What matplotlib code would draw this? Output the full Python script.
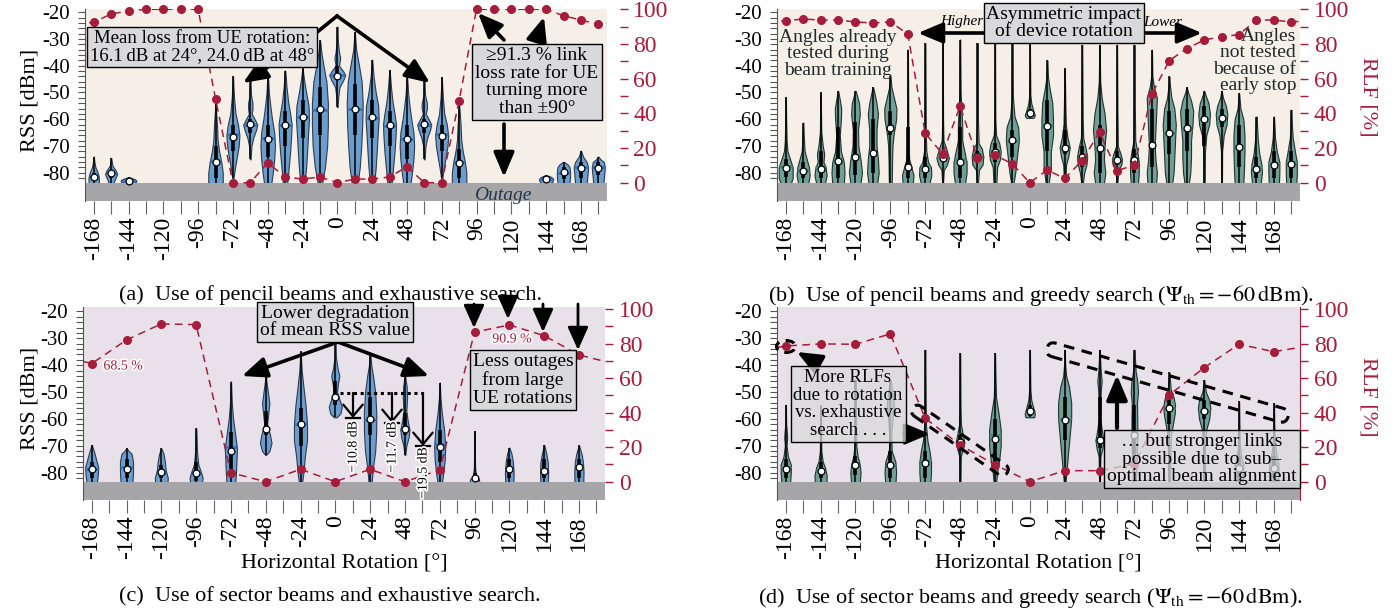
import numpy as np
import matplotlib
matplotlib.use("Agg")
import matplotlib.pyplot as plt
from matplotlib.patches import FancyBboxPatch, Ellipse, FancyArrowPatch
from matplotlib.transforms import Affine2D
from matplotlib.lines import Line2D
import matplotlib.patheffects as pe

plt.rcParams['font.family'] = ['Liberation Serif', 'DejaVu Serif']
plt.rcParams['mathtext.fontset'] = 'stix'

# ---------------- data ----------------
angles_fine = list(range(-168, 181, 12))      # pencil beams
angles_coarse = list(range(-168, 169, 24))    # sector beams
tick_angles = list(range(-168, 181, 12))
label_angles = list(range(-168, 169, 24))
rss_ticks = [-80, -70, -60, -50, -40, -30, -20]
rlf_ticks = [0, 20, 40, 60, 80, 100]

rlf_a = [92.5, 97.3, 99.0, 100, 100, 100, 100, 48.5, 0, 0, 11.5, 3.3, 2.1, 3.3, 0,
         2.1, 2.1, 3.3, 9.2, 0, 0, 47.3, 100, 100, 100, 100, 100, 96.3, 93.8, 91.3]
rlf_b = [93.4, 94.4, 93.8, 93.8, 92.7, 92.1, 92.7, 85.8, 28.5, 16.6, 44.2, 14.1, 16.0, 10.8, 0,
         7.3, 2.5, 12.7, 29.2, 6.9, 10.2, 51.0, 70.4, 77.3, 82.3, 84.2, 85.4, 93.8, 93.8, 92.7]
rlf_c = [68.5, 82.2, 91.5, 91.1, 5.2, 0, 7.2, 0, 7.2, 0, 6.8, 86.7, 90.9, 84.7, 73.5]
rlf_d = [78.7, 79.9, 79.7, 85.7, 36.8, 21.3, 9.9, 0, 6.4, 6.4, 10.3, 50.3, 66.1, 79.7, 75.4]

# violins: angle -> (mean, median, q1, q3, [(rss, half-width deg), ...])
viol_a = {
    -168: (-81.5, -81.5, -83, -80, [(-84, 3.5), (-82, 3.6), (-80, 2.8), (-78, 1.2), (-76, 0.5), (-74, 0.1)]),
    -156: (-80.2, -80, -82, -79, [(-84, 1.5), (-82, 3), (-80.5, 4.2), (-79, 3), (-77.5, 1), (-76, 0.5), (-74.5, 0.1)]),
    -144: (-83.1, -83, -83.5, -82.6, [(-84, 3.5), (-83.5, 5), (-83, 5.5), (-82.5, 4.5), (-82, 2), (-81.7, 0.3)]),
    -84: (-76.1, -75.5, -82, -70, [(-84, 5), (-80, 5), (-76, 4), (-72, 2.5), (-68, 1.5), (-62, 1), (-58, 0.5), (-54.3, 0.1)]),
    -72: (-66.5, -65.5, -72, -62, [(-82, 0.4), (-78, 1.5), (-74, 2.8), (-70, 4), (-66, 4.5), (-62, 3.5), (-58, 1.8), (-52, 0.8), (-48, 0.4), (-44, 0.1)]),
    -60: (-61.8, -62, -65, -60, [(-75, 0.2), (-70, 0.8), (-67, 2), (-64, 4), (-62, 4.8), (-60, 3), (-58, 1), (-56, 1.5), (-54, 1.5), (-51, 0.5), (-45.3, 0.1)]),
    -48: (-67.5, -67, -74, -62, [(-84, 2.5), (-80, 3.5), (-75, 4.5), (-70, 5), (-65, 4.5), (-60, 3), (-55, 1.8), (-50, 0.8), (-43, 0.1)]),
    -36: (-62.2, -62, -70, -57, [(-84, 1.5), (-78, 2.5), (-72, 3.5), (-66, 4.2), (-62, 4.5), (-58, 3.5), (-53, 2), (-48, 1), (-41.8, 0.1)]),
    -24: (-59.3, -59, -67, -53, [(-84, 1.5), (-78, 2.5), (-72, 3.2), (-66, 3.8), (-60, 4.5), (-55, 4.2), (-50, 2.5), (-45, 1), (-41, 0.1)]),
    -12: (-56.3, -56.5, -66, -48, [(-84, 1.5), (-78, 3.5), (-70, 5), (-62, 5.5), (-54, 5.5), (-46, 4.5), (-40, 2.5), (-35, 1), (-30.5, 0.1)]),
    0: (-43.8, -43.5, -45.5, -40, [(-55.5, 0.2), (-52, 0.6), (-48, 1.5), (-45.5, 4), (-43.5, 5.5), (-42, 4), (-40, 1.2), (-37, 2), (-35, 1.2), (-31, 0.4), (-25.4, 0.1)]),
    12: (-56.1, -56, -66, -47, [(-84, 2), (-78, 3.5), (-70, 4.5), (-62, 5.2), (-54, 5.5), (-46, 4.8), (-40, 3), (-34, 1), (-27.3, 0.1)]),
    24: (-59.3, -59.5, -67, -53, [(-84, 1.5), (-78, 2.5), (-72, 3.2), (-66, 3.8), (-60, 4.5), (-55, 4.2), (-50, 2.5), (-44, 1), (-37.8, 0.1)]),
    36: (-62.2, -62.5, -70, -57, [(-84, 1.5), (-78, 2.5), (-72, 3.5), (-66, 4.2), (-62, 4.5), (-58, 3.5), (-53, 2), (-48, 1), (-41.6, 0.1)]),
    48: (-67.5, -67.5, -75, -62, [(-84, 2.5), (-80, 3.5), (-75, 4.5), (-70, 5), (-65, 4.5), (-60, 3), (-55, 1.8), (-50, 0.8), (-43.5, 0.1)]),
    60: (-61.8, -62, -65, -60, [(-75, 0.2), (-70, 0.8), (-67, 2), (-64, 4), (-62, 4.8), (-60, 3), (-58, 1), (-56, 1.8), (-54, 1.8), (-51, 0.5), (-45.3, 0.1)]),
    72: (-66.3, -65.5, -72, -62, [(-82, 0.4), (-78, 1.5), (-74, 2.8), (-70, 4), (-66, 4.5), (-62, 3.5), (-58, 1.8), (-52, 0.8), (-48, 0.4), (-44.3, 0.1)]),
    84: (-76.5, -76, -82, -71, [(-84, 5), (-80, 5), (-76, 4), (-72, 2.5), (-68, 1.5), (-62, 1), (-58, 0.5), (-55, 0.1)]),
    144: (-82.4, -82.4, -83.2, -81.8, [(-84, 3), (-83.2, 4.5), (-82.4, 5), (-81.8, 4), (-81.2, 2), (-81, 0.3)]),
    156: (-79.9, -80, -82.5, -78, [(-84, 4), (-82, 4.5), (-80, 4.6), (-78, 4.2), (-77, 3), (-76, 0.5)]),
    168: (-78.1, -78, -82, -76, [(-84, 4), (-81, 4.5), (-78, 5), (-76, 4), (-74, 1.5), (-71.8, 0.1)]),
    180: (-78.1, -78, -81, -76, [(-84, 3.5), (-81, 4), (-78, 4.5), (-76, 3.8), (-75, 1.5), (-74, 0.1)]),
}
viol_b = {
    -168: (-78.4, -77.5, -81.5, -75, [(-84, 3.5), (-82, 4.8), (-78, 4.8), (-75, 3), (-72, 1.2), (-68, 0.6), (-60, 0.3), (-51.8, 0.1)]),
    -156: (-79.3, -79, -82, -76, [(-84, 3.5), (-81, 4.5), (-78, 4), (-75, 2.5), (-72, 1), (-66, 0.4), (-61.3, 0.1)]),
    -144: (-78.5, -78, -82, -72, [(-84, 3), (-81, 4.2), (-78, 3.5), (-76, 2), (-73, 2.5), (-70, 1.5), (-65, 0.5), (-58, 0.3), (-50, 0.1)]),
    -132: (-75.5, -76, -82, -63, [(-84, 4), (-80, 4.5), (-76, 4), (-72, 2), (-66, 1.2), (-60, 2), (-56, 2.2), (-52, 1), (-49.4, 0.1)]),
    -120: (-74.0, -74, -81, -61, [(-84, 3.5), (-80, 4.5), (-75, 3.5), (-70, 2), (-64, 1.8), (-58, 3), (-54, 2.5), (-51, 1), (-49.4, 0.1)]),
    -108: (-72.8, -73, -80, -60, [(-84, 3), (-80, 4), (-75, 3.5), (-70, 2.5), (-64, 2.5), (-58, 3.5), (-54, 2.5), (-50, 1), (-48, 0.1)]),
    -96: (-63.4, -62, -66, -57, [(-84, 1), (-76, 1.2), (-70, 1.5), (-66, 2.2), (-60, 4), (-56, 4.2), (-52, 2.5), (-48, 0.8), (-44, 0.1)]),
    -84: (-77.8, -78, -82, -63, [(-84, 3.5), (-81, 4), (-78, 2.5), (-75, 1), (-70, 0.5), (-60, 0.4), (-50, 0.3), (-34, 0.1)]),
    -72: (-78.6, -77, -82, -74, [(-84, 3), (-81, 4.2), (-78, 4), (-76, 2), (-72, 0.8), (-65, 0.4), (-50, 0.3), (-31.5, 0.1)]),
    -60: (-74.5, -74, -76, -73, [(-84, 0.3), (-79, 0.8), (-77, 3), (-74.5, 4.3), (-71, 2.5), (-68, 0.6), (-60, 0.3), (-31.5, 0.1)]),
    -48: (-76.1, -75, -82, -63, [(-84, 3.5), (-80, 4.5), (-76, 4.5), (-72, 3), (-68, 1.5), (-62, 1.5), (-57, 1), (-50, 0.4), (-30.2, 0.1)]),
    -36: (-73.7, -74, -76, -72, [(-84, 0.3), (-79, 1), (-77, 3.5), (-74, 4), (-71, 3), (-69, 0.8), (-60, 0.3), (-31.5, 0.1)]),
    -24: (-72.2, -72, -76, -69, [(-84, 1), (-78, 1.5), (-75, 3.5), (-72, 4), (-69, 3), (-66, 0.8), (-60, 0.3), (-31.5, 0.1)]),
    -12: (-67.8, -68, -74, -64, [(-84, 0.8), (-80, 2), (-75, 3), (-68, 4.5), (-63, 4), (-59, 1.5), (-52, 0.4), (-31.5, 0.1)]),
    0: (-57.6, -57.5, -58.5, -56, [(-59.5, 2.5), (-58.5, 3.5), (-57, 2.5), (-54, 1), (-51, 0.4), (-31.5, 0.1)]),
    12: (-62.5, -62, -72, -53, [(-84, 1), (-78, 2.5), (-72, 2.5), (-66, 4), (-60, 4), (-54, 3.5), (-48, 1.5), (-44, 0.5), (-38, 0.1)]),
    24: (-70.6, -71, -73, -64, [(-84, 0.4), (-77, 1), (-74, 2.5), (-70.5, 3.5), (-67, 2), (-62, 0.8), (-55, 0.5), (-41, 0.1)]),
    36: (-74.2, -74, -78, -70, [(-84, 0.5), (-80, 1.5), (-77, 3), (-74, 3.5), (-71, 2.5), (-67, 0.8), (-60, 0.4), (-32.2, 0.1)]),
    48: (-70.9, -72, -80, -62, [(-84, 3), (-80, 4), (-75, 3), (-70, 3.5), (-64, 4.5), (-58, 3.5), (-52, 1.5), (-46, 0.5), (-32.2, 0.1)]),
    60: (-75.2, -75, -77, -72, [(-84, 0.3), (-79, 1), (-77, 3), (-75, 3.5), (-73, 2.5), (-70, 0.6), (-55, 0.3), (-32.2, 0.1)]),
    72: (-75.2, -75, -80, -71, [(-84, 2.5), (-80, 3), (-76, 3), (-72, 2), (-68, 0.6), (-55, 0.3), (-32.2, 0.1)]),
    84: (-69.6, -68, -78, -56, [(-84, 3), (-80, 3.5), (-75, 2.5), (-70, 2), (-64, 2.5), (-58, 3), (-52, 3.5), (-48, 1.5), (-44, 0.4), (-34, 0.1)]),
    96: (-65.3, -65, -73, -57, [(-84, 2), (-80, 3), (-74, 3.5), (-68, 4), (-62, 4.5), (-56, 3.5), (-52, 1.5), (-47, 0.4), (-44, 0.1)]),
    108: (-63.4, -64, -72, -56, [(-84, 1.5), (-80, 2.5), (-74, 3), (-68, 3), (-62, 4), (-57, 4.5), (-53, 3), (-50, 1), (-48, 0.1)]),
    120: (-59.9, -60, -70, -55, [(-84, 0.4), (-72, 0.6), (-66, 1.5), (-62, 3.5), (-58, 4), (-54, 3), (-51, 1), (-49.4, 0.1)]),
    132: (-59.6, -61, -63, -56, [(-84, 0.3), (-72, 0.4), (-66, 1.5), (-62, 3.5), (-58, 4), (-55, 3), (-52, 1), (-49.4, 0.1)]),
    144: (-70.4, -70, -78, -62, [(-84, 3), (-78, 3.5), (-72, 3.8), (-66, 3.8), (-60, 3), (-56, 1), (-50.3, 0.1)]),
    156: (-78.7, -78, -82, -74, [(-84, 3), (-80, 3.8), (-77, 3.5), (-73, 2), (-68, 1), (-62, 0.4), (-59, 0.1)]),
    168: (-77.3, -76.5, -82, -72, [(-84, 3.5), (-80, 3.8), (-76, 3.8), (-72, 2), (-67, 0.8), (-62, 0.4), (-59, 0.1)]),
    180: (-76.6, -76, -82, -72, [(-84, 3.5), (-80, 3.8), (-76, 3.8), (-72, 2.5), (-67, 1), (-62, 0.4), (-56.5, 0.1)]),
}
viol_c = {
    -168: (-78.5, -78.5, -82, -76, [(-84, 3.5), (-81, 4.2), (-78, 4.5), (-75, 3), (-72, 1.5), (-69.7, 0.1)]),
    -144: (-78.5, -78, -82, -75, [(-84, 4), (-80, 4.5), (-76, 4.5), (-73, 3.5), (-72, 1.5), (-70.9, 0.1)]),
    -120: (-79.6, -80, -82, -77, [(-84, 4.2), (-82, 4.5), (-79, 3), (-76, 2.5), (-73, 1.5), (-71, 0.1)]),
    -96: (-80.2, -80, -83, -76, [(-84, 4), (-82, 4.5), (-80, 3.5), (-77, 1.5), (-72, 0.6), (-66, 0.3), (-63.5, 0.1)]),
    -72: (-71.8, -70.5, -80, -65, [(-84, 3), (-80, 3.5), (-76, 3.8), (-71, 4.2), (-66, 3), (-60, 1.5), (-54, 0.6), (-46.1, 0.1)]),
    -48: (-63.8, -63, -66, -57, [(-73.4, 0.3), (-72, 2.5), (-69, 4), (-66, 3), (-62, 1), (-58, 1.8), (-54, 2.5), (-50, 1.5), (-46, 0.5), (-42.7, 0.1)]),
    -24: (-62.0, -62, -70, -56, [(-84, 1), (-80, 2), (-74, 3), (-68, 4.5), (-62, 4.5), (-55, 3.5), (-48, 2), (-42, 0.8), (-34.9, 0.1)]),
    0: (-51.9, -50.6, -55, -46, [(-59.4, 1), (-58, 3.5), (-55.5, 4.5), (-53, 3), (-50, 1.2), (-47, 1.8), (-44, 2.8), (-41, 1.5), (-37, 0.4), (-30.5, 0.1)]),
    24: (-60.1, -60.5, -66, -52, [(-84, 1), (-78, 2), (-72, 3.5), (-65, 4.2), (-58, 4.3), (-50, 3.5), (-44, 2), (-40, 0.8), (-35.3, 0.1)]),
    48: (-63.8, -63, -66, -58, [(-73.4, 0.3), (-70, 1), (-67, 2.5), (-64, 3.2), (-61, 2), (-57, 1), (-52, 1.5), (-48, 1.2), (-45, 0.4), (-42.7, 0.1)]),
    72: (-70.3, -69.5, -76, -64, [(-84, 1.5), (-80, 2.5), (-75, 3.5), (-70, 3.8), (-64, 3), (-58, 1.5), (-52, 0.5), (-46.5, 0.1)]),
    96: (-81.9, -82, -83, -80, [(-84, 3.5), (-82.5, 3), (-81, 1), (-78, 0.4), (-70, 0.2), (-64.5, 0.1)]),
    120: (-78.7, -78.5, -82, -75, [(-84, 2.8), (-80, 3), (-76, 2.5), (-73, 1.5), (-70.7, 0.1)]),
    144: (-79.4, -79, -82, -75, [(-84, 2.5), (-80, 2.8), (-76, 2.5), (-73, 1.5), (-69.7, 0.1)]),
    168: (-78.0, -78, -82, -75, [(-84, 3), (-80, 3.2), (-76, 2.8), (-73, 1.8), (-69.9, 0.1)]),
}
viol_d = {
    -168: (-78.7, -78, -82, -75, [(-84, 3), (-80, 3.5), (-77, 3.5), (-74, 1.5), (-70, 0.6), (-67, 1), (-65, 0.8), (-62, 0.3), (-54.8, 0.1)]),
    -144: (-79.5, -79, -82, -76, [(-84, 4), (-81, 4.2), (-78, 3), (-76, 1.5), (-72, 0.5), (-60, 0.3), (-55, 0.1)]),
    -120: (-77.1, -77, -81, -74, [(-84, 3), (-80, 3.5), (-77, 3), (-74, 1.5), (-70, 0.6), (-55, 0.3), (-45.5, 0.1)]),
    -96: (-77.0, -77, -82, -72, [(-84, 3.5), (-80, 4), (-76, 3.5), (-72, 1), (-66, 0.6), (-60, 1.5), (-55, 2.5), (-50, 1.5), (-45.5, 0.1)]),
    -72: (-76.3, -75.2, -82, -72, [(-84, 3.5), (-80, 4), (-76, 4), (-72, 3), (-68, 1.5), (-62, 0.5), (-50, 0.3), (-34.3, 0.1)]),
    -48: (-68.6, -69, -72, -66, [(-84, 0.3), (-74, 0.5), (-71, 2), (-69, 3), (-66, 2), (-62, 0.6), (-55, 0.3), (-35.5, 0.1)]),
    -24: (-67.6, -66, -76, -60, [(-84, 0.8), (-80, 1.5), (-75, 3), (-70, 4), (-64, 4), (-58, 2.5), (-52, 0.8), (-45, 0.4), (-35.5, 0.1)]),
    0: (-56.9, -57.5, -59, -55, [(-59.4, 3), (-58, 3.5), (-56, 2.5), (-53, 1), (-49, 0.4), (-34.3, 0.1)]),
    24: (-60.4, -60, -68, -52, [(-84, 0.5), (-78, 1.5), (-72, 2.5), (-66, 3.5), (-60, 4.5), (-54, 4.5), (-48, 3), (-44, 1), (-40, 0.4), (-34.3, 0.1)]),
    48: (-67.8, -68, -71, -52, [(-84, 0.3), (-74, 0.6), (-71, 2), (-68, 2.8), (-65, 1.8), (-60, 0.5), (-50, 0.8), (-46, 1.5), (-42, 0.8), (-34.3, 0.1)]),
    72: (-66.0, -66, -74, -55, [(-84, 1), (-76, 1.5), (-68, 2), (-60, 2), (-54, 1.8), (-50, 2.5), (-46, 2), (-42, 0.8), (-34.3, 0.1)]),
    96: (-56.0, -56, -62, -52, [(-84, 0.5), (-75, 0.8), (-66, 1.2), (-62, 2.5), (-58, 3.8), (-55, 4), (-52, 3), (-49, 1), (-45, 0.4), (-42.7, 0.1)]),
    120: (-57.0, -57, -60, -53, [(-84, 0.4), (-70, 0.6), (-64, 1.5), (-60, 3.5), (-56, 4.3), (-53, 3.5), (-50, 1.2), (-47, 0.4), (-45.5, 0.1)]),
    144: (-78.4, -78, -82, -74, [(-84, 2.5), (-80, 3), (-77, 3), (-74, 1.5), (-70, 0.6), (-62, 0.3), (-53.5, 0.1)]),
    168: (-78.4, -78, -82, -74, [(-84, 3), (-80, 3.2), (-77, 3.2), (-74, 2), (-70, 0.8), (-62, 0.3), (-54.2, 0.1)]),
}

# ---------------- style ----------------
W, H = 1396, 608
RED = '#a51d3b'
BG_TOP = '#f6efe7'
BG_BOT = '#e9e1e9'
BAND = '#a6a6a9'
BLUE = ('#6b9ecf', '#2c3c4e', '#2f72bb')
TEAL = ('#6f9f96', '#22322e', '#3c8c80')

fig = plt.figure(figsize=(W / 100, H / 100), dpi=100)


def P(x, y):
    return (x / W, 1 - y / H)


def make_axes(x0, x1, ytop, ybot):
    return fig.add_axes([x0 / W, 1 - ybot / H, (x1 - x0) / W, (ybot - ytop) / H])


def draw_violins(ax, vd, colors):
    fc, ec, mc = colors
    pos = list(vd.keys())
    stats, widths = [], []
    for a in pos:
        mean, med, q1, q3, knots = vd[a]
        k = np.array(knots, dtype=float)
        stats.append(dict(coords=k[:, 0], vals=k[:, 1], mean=mean, median=med,
                          min=k[0, 0], max=k[-1, 0]))
        widths.append(2 * k[:, 1].max())
    parts = ax.violin(stats, positions=pos, widths=widths, showmeans=False,
                      showextrema=False, showmedians=False)
    for b in parts['bodies']:
        b.set_facecolor(fc)
        b.set_edgecolor(ec)
        b.set_linewidth(0.8)
        b.set_alpha(1)
        b.set_zorder(2)
    for a, s in zip(pos, stats):
        q1, q3 = vd[a][2], vd[a][3]
        ax.vlines(a, s['min'], s['max'], color='k', lw=1.1, zorder=2.1)
        hw = np.interp(s['median'], s['coords'], s['vals'])
        ax.hlines(s['median'], a - hw, a + hw, color=mc, lw=1.8, zorder=2.2)
        ax.vlines(a, q1, q3, color='k', lw=2.6, zorder=2.3)
    ax.scatter(pos, [s['mean'] for s in stats], s=24, facecolor='white',
               edgecolor='black', linewidths=0.9, zorder=3.2)


def setup(ax, bg, ylim, band_top, rlf_lim, angles, rlf, step, vd, colors,
          right_offset=0, right_spine=True):
    ax.set_xlim(-174, 186)
    ax.set_ylim(*ylim)
    ax.set_facecolor(bg)
    ax.axhspan(-100, band_top, color=BAND, lw=0, zorder=2.5)
    draw_violins(ax, vd, colors)
    for s in ['top', 'right', 'bottom']:
        ax.spines[s].set_visible(False)
    ax.spines['left'].set_color('#555')
    ax.spines['left'].set_linewidth(0.8)
    ax.set_yticks(rss_ticks)
    ax.set_yticklabels([str(v) for v in rss_ticks])
    ax.set_yticks(list(range(-82, -19, 2)), minor=True)
    ax.tick_params(axis='y', which='both', length=5, width=0.8, color='#555',
                   labelsize=15, pad=6)
    ax.set_xticks(tick_angles)
    ax.set_xticklabels([str(a) if a in label_angles else '' for a in tick_angles])
    ax.tick_params(axis='x', length=9, width=0.8, color='#666', labelsize=17,
                   pad=2, labelrotation=90)

    ax2 = ax.twinx()
    ax2.set_ylim(*rlf_lim)
    ext_a = [angles[0] - step] + list(angles) + [angles[-1] + step]
    ext_v = [rlf[-1]] + list(rlf) + [rlf[0]]
    ax2.plot(ext_a, ext_v, ls=(0, (5, 3.5)), color=RED, lw=1.1, zorder=3)
    ax2.plot(angles, rlf, 'o', ms=5.5, color=RED, clip_on=False, zorder=4)
    for s in ['top', 'left', 'bottom']:
        ax2.spines[s].set_visible(False)
    ax2.spines['right'].set_color(RED)
    ax2.spines['right'].set_visible(right_spine)
    if right_offset:
        ax2.spines['right'].set_position(('outward', right_offset))
    ax2.set_yticks(rlf_ticks)
    ax2.set_yticklabels([str(v) for v in rlf_ticks])
    ax2.set_yticks([10, 30, 50, 70, 90], minor=True)
    ax2.tick_params(axis='y', which='both', colors=RED, length=6, width=1,
                    labelsize=17, pad=4)
    ax2.set_xlim(-174, 186)
    return ax2


ax_a = make_axes(85, 607, 9, 201)
ax_b = make_axes(777, 1300, 9, 201)
ax_c = make_axes(83, 605, 307, 500)
ax_d = make_axes(777, 1300, 307, 500)

setup(ax_a, BG_TOP, (-90.6, -18.77), -83.7, (-10.55, 100.17), angles_fine, rlf_a, 12,
      viol_a, BLUE, right_offset=9, right_spine=False)
setup(ax_b, BG_TOP, (-90.6, -18.77), -83.7, (-10.55, 100.17), angles_fine, rlf_b, 12,
      viol_b, TEAL, right_spine=False)
setup(ax_c, BG_BOT, (-90.2, -18.36), -83.35, (-10.6, 101.3), angles_coarse, rlf_c, 24,
      viol_c, BLUE, right_spine=False)
setup(ax_d, BG_BOT, (-90.2, -18.36), -83.35, (-10.6, 101.3), angles_coarse, rlf_d, 24,
      viol_d, TEAL, right_spine=True)

# ---------------- labels ----------------
def ftext(x, y, s, **kw):
    return fig.text(x / W, 1 - y / H, s, **kw)


ftext(30, 100, 'RSS [dBm]', rotation=90, ha='center', va='center', fontsize=16)
ftext(30, 398, 'RSS [dBm]', rotation=90, ha='center', va='center', fontsize=16)
ftext(1368, 97, 'RLF [%]', rotation=-90, ha='center', va='center', fontsize=16, color=RED)
ftext(1368, 397, 'RLF [%]', rotation=-90, ha='center', va='center', fontsize=16, color=RED)
ftext(344, 564, 'Horizontal Rotation [°]', ha='center', va='center', fontsize=16)
ftext(1038, 564, 'Horizontal Rotation [°]', ha='center', va='center', fontsize=16)
ftext(331, 295, '(a)  Use of pencil beams and exhaustive search.', ha='center', va='center', fontsize=16)
ftext(1041, 295, r'(b)  Use of pencil beams and greedy search ($\Psi_{\mathrm{th}} = -60\,\mathrm{dBm}$).',
      ha='center', va='center', fontsize=16)
ftext(330, 597, '(c)  Use of sector beams and exhaustive search.', ha='center', va='center', fontsize=16)
ftext(1030, 597, r'(d)  Use of sector beams and greedy search ($\Psi_{\mathrm{th}} = -60\,\mathrm{dBm}$).',
      ha='center', va='center', fontsize=16)

# ---------------- annotations ----------------
def arrow(x1, y1, x2, y2, lw=2.6, hl=1.0, hw=0.42, ms=15, style='-|>'):
    a = FancyArrowPatch(P(x1, y1), P(x2, y2), transform=fig.transFigure,
                        arrowstyle=f'{style},head_length={hl},head_width={hw}',
                        mutation_scale=ms, lw=lw, color='k', shrinkA=0, shrinkB=0,
                        zorder=10)
    fig.add_artist(a)


def box(x, y, s, fs=14, alpha=1.0, ls=1.05):
    ftext(x, y, s, ha='center', va='center', fontsize=fs, multialignment='center',
          linespacing=ls, zorder=11,
          bbox=dict(boxstyle='square,pad=0.15', fc=(0.85, 0.85, 0.86, alpha), ec='k', lw=1))


def polyline(pts, lw=2.6, ls='-'):
    xs = [p[0] / W for p in pts]
    ys = [1 - p[1] / H for p in pts]
    fig.add_artist(Line2D(xs, ys, transform=fig.transFigure, lw=lw, color='k', ls=ls,
                          solid_joinstyle='miter', zorder=10))


def stadium(x1, y1, x2, y2, width, lw=2.2):
    cx, cy = (x1 + x2) / 2, H - (y1 + y2) / 2
    L = np.hypot(x2 - x1, y2 - y1)
    ang = -np.degrees(np.arctan2(y2 - y1, x2 - x1))
    p = FancyBboxPatch((cx - L / 2, cy - width / 2), L, width,
                       boxstyle=f'round,pad=0,rounding_size={width / 2}', fill=False,
                       ec='k', lw=lw, ls=(0, (3.5, 2.5)),
                       transform=Affine2D().rotate_deg_around(cx, cy, ang), zorder=12)
    fig.add_artist(p)


halo = [pe.withStroke(linewidth=2.5, foreground='white')]

# (a)
polyline([(316, 33), (337, 16)])
arrow(337, 16, 430, 83)
arrow(268, 67, 243, 83)
box(202, 47, 'Mean loss from UE rotation:\n16.1\u2009dB at 24°, 24.0\u2009dB at 48°', fs=13.5)
arrow(504, 40, 478, 13)
arrow(537, 40, 544, 17)
arrow(504, 124, 504, 177)
box(537, 82, '≥91.3 % link\nloss rate for UE\nturning more\nthan ±90°')
ftext(503, 195, 'Outage', ha='center', va='center', fontsize=14, style='italic', color='#24364a')

# (b)
arrow(988, 33, 918, 33)
arrow(1141, 33, 1202, 33)
ftext(962, 22, 'Higher', ha='center', va='center', fontsize=11, style='italic')
ftext(1163, 23, 'Lower', ha='center', va='center', fontsize=11, style='italic')
box(1064, 23, 'Asymmetric impact\nof device rotation')
ftext(838, 54, 'Angles already\ntested during\nbeam training', ha='center', va='center',
      fontsize=14, linespacing=0.95, color='#1f2a28')
ftext(1296, 61, 'Angles\nnot tested\nbecause of\nearly stop', ha='right', va='center',
      fontsize=14, linespacing=0.95, multialignment='right', color='#1f2a28')

# (c)
arrow(338, 342, 242, 376)
arrow(338, 342, 429, 376)
box(335, 322, 'Lower degradation\nof mean RSS value')
polyline([(340, 393), (423, 393)], lw=2.2, ls=(0, (1, 1.2)))
for xa, ytip, lab, ylab in [(353, 418, '−10.8 dB', 447), (392, 423, '−11.7 dB', 447),
                             (423, 446, '−19.5 dB', 473)]:
    arrow(xa, 393, xa, ytip, lw=1.6, hl=0.6, hw=0.5, ms=14, style='->')
    polyline([(xa - 7, ytip), (xa + 7, ytip)], lw=1.6)
    ftext(xa, ylab, lab, rotation=90, ha='center', va='center', fontsize=10,
          path_effects=halo, zorder=12)
ftext(123, 366, '68.5 %', ha='center', va='center', fontsize=10, color=RED, path_effects=halo)
ftext(512, 339, '90.9 %', ha='center', va='center', fontsize=10, color=RED, path_effects=halo)
box(523, 380, 'Less outages\nfrom large\nUE rotations')
for xa, ytip in [(474, 328), (508, 319), (543, 332), (578, 350)]:
    arrow(xa, 304, xa, ytip, lw=2.0, hl=1.0, hw=0.45, ms=14)

# (d)
e = Ellipse((786, H - 346.5), 19, 12, fill=False, ec='k', lw=2.2, ls=(0, (3, 2.2)),
            transform=Affine2D(), zorder=12)
fig.add_artist(e)
stadium(913, 408, 1007, 473, 12)
stadium(1047, 348, 1288, 417, 14)
box(848, 404, 'More RLFs\ndue to rotation\nvs. exhaustive\nsearch . . .', fs=13.5, alpha=0.75)
arrow(817, 363, 797, 352)
arrow(904, 434, 930, 434)
box(1202, 459, '… but stronger links\npossible due to sub–\noptimal beam alignment', alpha=0.75)
arrow(1117, 428, 1117, 375, lw=3.0)

fig.savefig('out.png', dpi=100)
